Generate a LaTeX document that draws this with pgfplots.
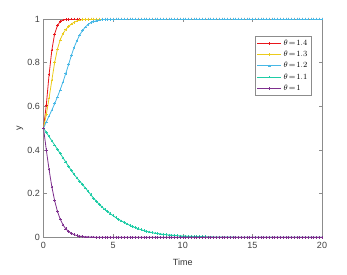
\documentclass[border=0pt]{standalone}
\usepackage{fontspec}
\setmainfont{Liberation Sans}
\usepackage{pgfplots}
\pgfplotsset{compat=1.18}
\usepackage{pgfplotstable}
\definecolor{cR}{HTML}{E8161B}
\definecolor{cY}{HTML}{EBCB1C}
\definecolor{cB}{HTML}{48B8E6}
\definecolor{cG}{HTML}{1FCCA6}
\definecolor{cP}{HTML}{7E2F8E}
\pgfplotstableread{
t r y b g p
0.0 0.500 0.500 0.500 0.500 0.500
0.2 0.605 0.562 0.528 0.481 0.401
0.4 0.745 0.638 0.556 0.461 0.310
0.6 0.858 0.720 0.583 0.442 0.231
0.8 0.932 0.800 0.612 0.423 0.168
1.0 0.970 0.862 0.643 0.403 0.119
1.2 0.988 0.905 0.676 0.384 0.083
1.4 0.995 0.933 0.712 0.364 0.057
1.6 0.998 0.952 0.751 0.345 0.039
1.8 0.999 0.966 0.791 0.325 0.027
2.0 1.000 0.977 0.833 0.306 0.018
2.2 1.000 0.985 0.870 0.288 0.012
2.4 1.000 0.991 0.901 0.272 0.008
2.6 1.000 0.995 0.927 0.257 0.005
2.8 1.000 0.997 0.947 0.242 0.004
3.0 1.000 0.998 0.963 0.226 0.002
3.2 1.000 0.999 0.975 0.211 0.002
3.4 1.000 1.000 0.983 0.195 0.001
3.6 1.000 1.000 0.988 0.179 0.001
3.8 1.000 1.000 0.992 0.165 0.000
4.0 1.000 1.000 0.995 0.151 0.000
4.2 1.000 1.000 0.997 0.139 0.000
4.4 1.000 1.000 0.998 0.128 0.000
4.6 1.000 1.000 0.998 0.118 0.000
4.8 1.000 1.000 0.999 0.108 0.000
5.0 1.000 1.000 0.999 0.099 0.000
5.2 1.000 1.000 1.000 0.090 0.000
5.4 1.000 1.000 1.000 0.082 0.000
5.6 1.000 1.000 1.000 0.075 0.000
5.8 1.000 1.000 1.000 0.068 0.000
6.0 1.000 1.000 1.000 0.061 0.000
6.2 1.000 1.000 1.000 0.055 0.000
6.4 1.000 1.000 1.000 0.049 0.000
6.6 1.000 1.000 1.000 0.044 0.000
6.8 1.000 1.000 1.000 0.039 0.000
7.0 1.000 1.000 1.000 0.035 0.000
7.2 1.000 1.000 1.000 0.031 0.000
7.4 1.000 1.000 1.000 0.0275 0.000
7.6 1.000 1.000 1.000 0.0244 0.000
7.8 1.000 1.000 1.000 0.0216 0.000
8.0 1.000 1.000 1.000 0.0191 0.000
8.2 1.000 1.000 1.000 0.0170 0.000
8.4 1.000 1.000 1.000 0.0151 0.000
8.6 1.000 1.000 1.000 0.0135 0.000
8.8 1.000 1.000 1.000 0.0120 0.000
9.0 1.000 1.000 1.000 0.0107 0.000
9.2 1.000 1.000 1.000 0.0095 0.000
9.4 1.000 1.000 1.000 0.0085 0.000
9.6 1.000 1.000 1.000 0.0076 0.000
9.8 1.000 1.000 1.000 0.0068 0.000
10.0 1.000 1.000 1.000 0.0061 0.000
10.2 1.000 1.000 1.000 0.0055 0.000
10.4 1.000 1.000 1.000 0.0049 0.000
10.6 1.000 1.000 1.000 0.0044 0.000
10.8 1.000 1.000 1.000 0.0039 0.000
11.0 1.000 1.000 1.000 0.0035 0.000
11.2 1.000 1.000 1.000 0.0031 0.000
11.4 1.000 1.000 1.000 0.0028 0.000
11.6 1.000 1.000 1.000 0.0025 0.000
11.8 1.000 1.000 1.000 0.0022 0.000
12.0 1.000 1.000 1.000 0.0020 0.000
12.2 1.000 1.000 1.000 0.0018 0.000
12.4 1.000 1.000 1.000 0.0016 0.000
12.6 1.000 1.000 1.000 0.0014 0.000
12.8 1.000 1.000 1.000 0.0013 0.000
13.0 1.000 1.000 1.000 0.0011 0.000
13.2 1.000 1.000 1.000 0.0010 0.000
13.4 1.000 1.000 1.000 0.0009 0.000
13.6 1.000 1.000 1.000 0.0008 0.000
13.8 1.000 1.000 1.000 0.0007 0.000
14.0 1.000 1.000 1.000 0.0006 0.000
14.2 1.000 1.000 1.000 0.0006 0.000
14.4 1.000 1.000 1.000 0.0005 0.000
14.6 1.000 1.000 1.000 0.0004 0.000
14.8 1.000 1.000 1.000 0.0004 0.000
15.0 1.000 1.000 1.000 0.0003 0.000
15.2 1.000 1.000 1.000 0.0003 0.000
15.4 1.000 1.000 1.000 0.0003 0.000
15.6 1.000 1.000 1.000 0.0002 0.000
15.8 1.000 1.000 1.000 0.0002 0.000
16.0 1.000 1.000 1.000 0.0002 0.000
16.2 1.000 1.000 1.000 0.0002 0.000
16.4 1.000 1.000 1.000 0.0002 0.000
16.6 1.000 1.000 1.000 0.0001 0.000
16.8 1.000 1.000 1.000 0.0001 0.000
17.0 1.000 1.000 1.000 0.0001 0.000
17.2 1.000 1.000 1.000 0.0001 0.000
17.4 1.000 1.000 1.000 0.0001 0.000
17.6 1.000 1.000 1.000 0.0001 0.000
17.8 1.000 1.000 1.000 0.0001 0.000
18.0 1.000 1.000 1.000 0.0001 0.000
18.2 1.000 1.000 1.000 0.0000 0.000
18.4 1.000 1.000 1.000 0.0000 0.000
18.6 1.000 1.000 1.000 0.0000 0.000
18.8 1.000 1.000 1.000 0.0000 0.000
19.0 1.000 1.000 1.000 0.0000 0.000
19.2 1.000 1.000 1.000 0.0000 0.000
19.4 1.000 1.000 1.000 0.0000 0.000
19.6 1.000 1.000 1.000 0.0000 0.000
19.8 1.000 1.000 1.000 0.0000 0.000
20.0 1.000 1.000 1.000 0.0000 0.000
}\data
\newcommand{\legimg}[1]{\draw[draw=#1,line width=0.8pt] plot[mark=+,mark size=1.3pt,mark repeat=2,mark phase=2,mark options={draw=#1,line width=0.45pt}] coordinates {(0pt,0pt) (12pt,0pt) (24pt,0pt)};}
\begin{document}
\begin{tikzpicture}
\path[use as bounding box] (-43.5pt,-36.7pt) rectangle (303.5pt,237.3pt);
\begin{axis}[
  width=278.5pt, height=218.3pt, scale only axis,
  at={(0pt,0pt)}, anchor=south west,
  xmin=0, xmax=20, ymin=0, ymax=1,
  xtick={0,5,10,15,20}, ytick={0,0.2,0.4,0.6,0.8,1},
  tick align=inside, major tick length=3pt,
  axis line style={black!45, line width=0.5pt},
  tick style={black!45, line width=0.5pt},
  /pgf/number format/assume math mode=true,
  /pgf/number format/fixed,
  ticklabel style={font=\fontsize{9}{10}\selectfont, text=black!75},
  xticklabel style={yshift=-1pt},
  xlabel={Time}, ylabel={y},
  xlabel style={font=\fontsize{9}{10}\selectfont, text=black!80, at={(axis description cs:0.5,-0.113)}, anchor=center},
  ylabel style={font=\fontsize{9}{10}\selectfont, text=black!80, at={(axis description cs:-0.085,0.5)}, anchor=center},
  legend style={at={(0.76,0.922)}, anchor=north west, draw=black!45, line width=0.5pt,
    font=\fontsize{8}{9}\selectfont, inner sep=1.5pt, row sep=0.2pt, cells={anchor=west}},
  every axis plot/.append style={line width=0.8pt, mark=+, mark size=1.3pt, mark options={line width=0.45pt}},
]
\addplot[color=cR, legend image code/.code={\legimg{cR}}] table[x=t,y=r]{\data};
\addlegendentry{$\theta\!=\!1.4$}
\addplot[color=cY, legend image code/.code={\legimg{cY}}] table[x=t,y=y]{\data};
\addlegendentry{$\theta\!=\!1.3$}
\addplot[color=cB, legend image code/.code={\legimg{cB}}] table[x=t,y=b]{\data};
\addlegendentry{$\theta\!=\!1.2$}
\addplot[color=cG, legend image code/.code={\legimg{cG}}] table[x=t,y=g]{\data};
\addlegendentry{$\theta\!=\!1.1$}
\addplot[color=cP, legend image code/.code={\legimg{cP}}] table[x=t,y=p]{\data};
\addlegendentry{$\theta\!=\!1$}
\end{axis}
\end{tikzpicture}
\end{document}
